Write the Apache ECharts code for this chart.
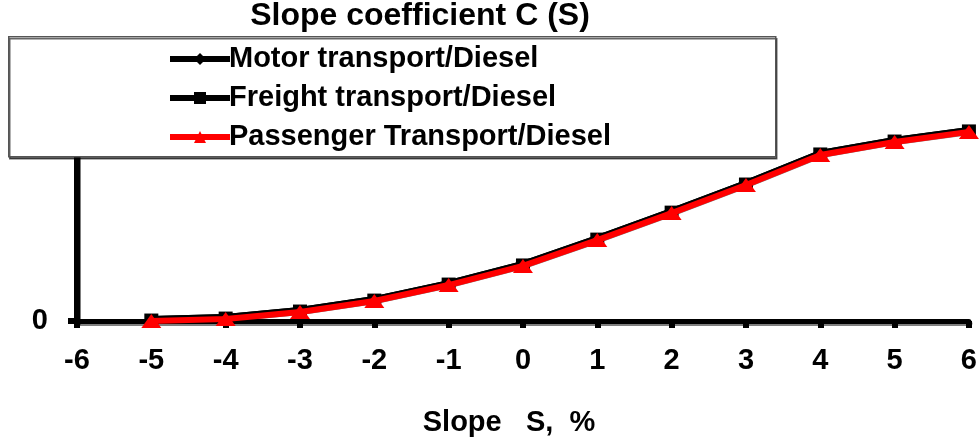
<!DOCTYPE html>
<html><head><meta charset="utf-8">
<script src="https://cdn.jsdelivr.net/npm/echarts@6/dist/echarts.min.js"></script>
<style>html,body{margin:0;padding:0;background:#fff}#c{width:980px;height:443px}</style>
</head><body><div id="c"></div>
<script>
const slopes = [-5, -4, -3, -2, -1, 0, 1, 2, 3, 4, 5, 6];
const motorDiesel = [0.007, 0.014, 0.039, 0.078, 0.135, 0.203, 0.295, 0.391, 0.491, 0.598, 0.644, 0.680];
const freightDiesel = [0.007, 0.014, 0.039, 0.078, 0.135, 0.203, 0.295, 0.391, 0.491, 0.598, 0.644, 0.680];
const passengerDiesel = [0.000, 0.007, 0.032, 0.071, 0.128, 0.196, 0.288, 0.384, 0.484, 0.591, 0.637, 0.673];
const xTicks = [-6, 6];
const yTicks = [0, 1];
const seriesNames = ['Motor transport/Diesel', 'Freight transport/Diesel', 'Passenger Transport/Diesel'];

const F = '"Liberation Sans", Arial, sans-serif';
const pairs = arr => slopes.map((s, i) => [s, arr[i]]);
const shadow = {shadowColor: 'rgba(0,0,0,0.5)', shadowOffsetX: 1, shadowOffsetY: 2, shadowBlur: 0};
const tshadow = {textShadowColor: 'rgba(0,0,0,0.35)', textShadowOffsetX: 1, textShadowOffsetY: 1, textShadowBlur: 0};

const chart = echarts.init(document.getElementById('c'));
chart.setOption({
  animation: false,
  backgroundColor: '#fff',
  title: {
    text: 'Slope coefficient C (S)', left: 420, top: 0, padding: 0, textAlign: 'center',
    textStyle: {fontFamily: F, fontWeight: 'bold', fontSize: 32, lineHeight: 32, color: '#000', ...tshadow}
  },
  graphic: [{
    type: 'rect', z: 50, left: 8, top: 36,
    shape: {width: 767, height: 120},
    style: {fill: '#fff', stroke: '#555', lineWidth: 1.5, shadowColor: 'rgba(0,0,0,0.6)', shadowOffsetX: 1, shadowOffsetY: 2}
  }],
  legend: {
    z: 60, orient: 'vertical', left: 167, top: 44, padding: 0,
    itemWidth: 60, itemHeight: 15, itemGap: 9,
    data: seriesNames,
    lineStyle: {width: 6},
    textStyle: {fontFamily: F, fontSize: 29, fontWeight: 'bold', color: '#000', lineHeight: 30, padding: [0, 0, 0, -6], ...tshadow}
  },
  grid: {left: 77, right: 8, top: 40, bottom: 122},
  xAxis: {
    type: 'value', min: xTicks[0], max: xTicks[1], interval: 1,
    name: 'Slope   S,  %', nameLocation: 'middle', nameGap: 87,
    nameTextStyle: {fontFamily: F, fontWeight: 'bold', fontSize: 29, color: '#000', padding: [0, 28, 0, 0], ...tshadow},
    axisLine: {onZero: false, lineStyle: {color: '#000', width: 5, ...shadow}},
    axisTick: {show: true, length: 7, lineStyle: {color: '#000', width: 6}},
    axisLabel: {fontFamily: F, fontWeight: 'bold', fontSize: 29, color: '#000', margin: 25, ...tshadow},
    splitLine: {show: false}
  },
  yAxis: {
    type: 'value', min: yTicks[0], max: yTicks[1], interval: 1,
    axisLine: {show: true, onZero: false, lineStyle: {color: '#000', width: 6, ...shadow}},
    axisTick: {show: true, length: 9, lineStyle: {color: '#000', width: 6}},
    axisLabel: {fontFamily: F, fontWeight: 'bold', fontSize: 29, color: '#000', margin: 29, ...tshadow,
      formatter: v => v === 0 ? '0' : ''},
    splitLine: {show: false}
  },
  series: [
    {name: seriesNames[0], type: 'line', data: pairs(motorDiesel), z: 2,
     symbol: 'diamond', symbolSize: 10, color: '#000',
     lineStyle: {width: 6, color: '#000', ...shadow}, itemStyle: {color: '#000'}},
    {name: seriesNames[1], type: 'line', data: pairs(freightDiesel), z: 3,
     symbol: 'rect', symbolSize: [14, 11], color: '#000',
     lineStyle: {width: 6, color: '#000'}, itemStyle: {color: '#000'}},
    {name: seriesNames[2], type: 'line', data: pairs(passengerDiesel), z: 4,
     symbol: 'triangle', symbolSize: [20, 14], color: '#ff0000',
     lineStyle: {width: 6, color: '#ff0000'}, itemStyle: {color: '#ff0000'}}
  ]
});
</script>
</body></html>
